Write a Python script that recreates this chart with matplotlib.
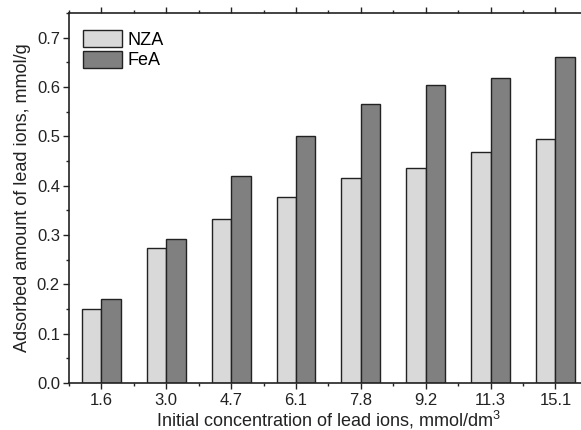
import numpy as np
import matplotlib
matplotlib.use("Agg")
from matplotlib import pyplot as plt
from matplotlib.ticker import MultipleLocator

plt.rcParams["font.family"] = ["Liberation Sans", "DejaVu Sans"]
plt.rcParams["mathtext.default"] = "regular"

# data
concentrations = ["1.6", "3.0", "4.7", "6.1", "7.8", "9.2", "11.3", "15.1"]
nza = [0.150, 0.273, 0.333, 0.377, 0.415, 0.435, 0.469, 0.495]
fea = [0.170, 0.292, 0.420, 0.500, 0.565, 0.604, 0.619, 0.660]

fig = plt.figure(figsize=(5.81, 4.30), dpi=100)
ax = fig.add_axes([0.1188, 0.1093, 0.893, 0.8605])

x = np.arange(len(concentrations))
w = 0.3
ax.bar(x - w / 2, nza, w, color="#d9d9d9", edgecolor="#222222", linewidth=1.0, label="NZA")
ax.bar(x + w / 2, fea, w, color="#808080", edgecolor="#222222", linewidth=1.0, label="FeA")

ax.set_xlim(-0.5, len(concentrations) - 0.5)
ax.set_ylim(0, 0.75)
ax.set_xticks(x)
ax.set_xticklabels(concentrations)
ax.xaxis.set_minor_locator(MultipleLocator(0.5))
ax.yaxis.set_major_locator(MultipleLocator(0.1))
ax.yaxis.set_minor_locator(MultipleLocator(0.05))
ax.yaxis.set_major_formatter(plt.FormatStrFormatter("%.1f"))

ax.tick_params(axis="both", which="major", labelsize=12, length=4.5, width=1, color="#222222", labelcolor="#222222")
ax.tick_params(axis="both", which="minor", length=2.5, width=1, color="#222222")
ax.tick_params(axis="x", which="both", top=True)
ax.tick_params(axis="x", which="major", pad=2.5)
ax.tick_params(axis="y", which="major", pad=2)
for side in ["left", "bottom", "top"]:
    ax.spines[side].set_linewidth(1.2)
    ax.spines[side].set_color("#222222")
ax.spines["right"].set_visible(False)

ax.set_xlabel("Initial concentration of lead ions, mmol/dm$^{3}$", fontsize=13, color="#222222", labelpad=0.5)
ax.set_ylabel("Adsorbed amount of lead ions, mmol/g", fontsize=13, color="#222222", labelpad=4)

ax.legend(loc="upper left", bbox_to_anchor=(0.027, 0.954), frameon=False, fontsize=13,
          handlelength=2.17, handleheight=1.1, handletextpad=0.28, labelspacing=0.1,
          borderaxespad=0, borderpad=0)

fig.savefig("out.png", dpi=100)
